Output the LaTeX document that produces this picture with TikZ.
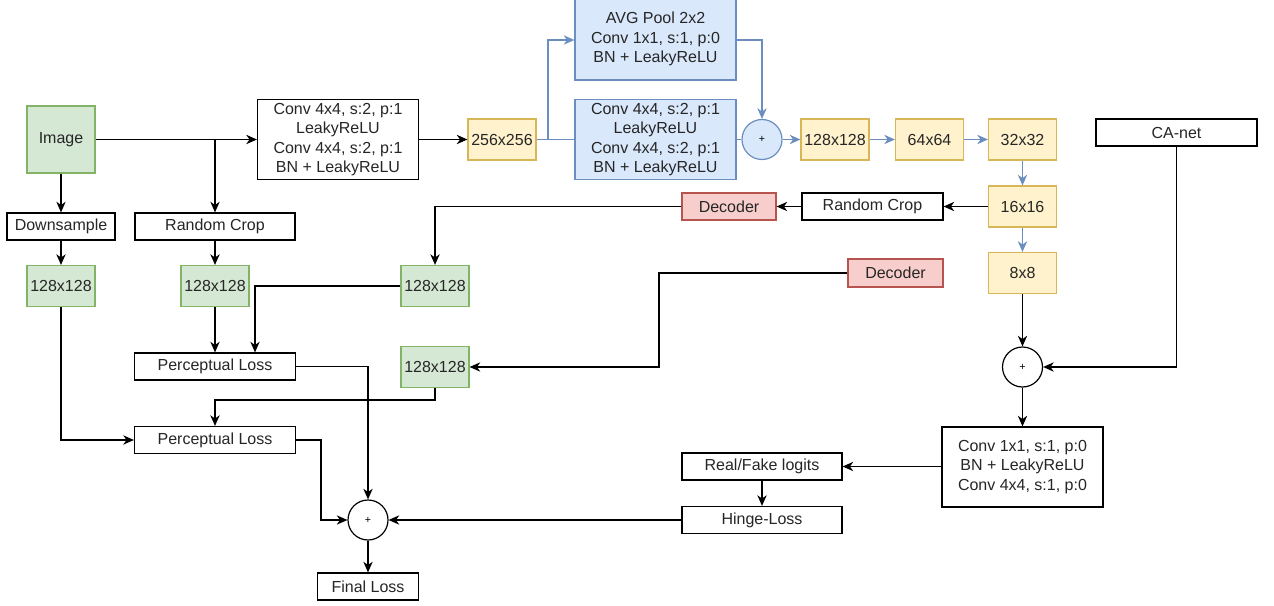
\documentclass[tikz,border=0pt]{standalone}
\usepackage{fontspec}
\setmainfont{Liberation Sans}
\usetikzlibrary{arrows.meta}
\definecolor{gfill}{HTML}{D5E8D4}
\definecolor{gdraw}{HTML}{82B366}
\definecolor{yfill}{HTML}{FFF2CC}
\definecolor{ydraw}{HTML}{D6B656}
\definecolor{bfill}{HTML}{DAE8FC}
\definecolor{bdraw}{HTML}{6C8EBF}
\definecolor{rfill}{HTML}{F8CECC}
\definecolor{rdraw}{HTML}{B85450}
\begin{document}
\begin{tikzpicture}[x=0.75pt,y=-0.75pt,
  font=\fontsize{12}{14.5}\selectfont,
  box/.style={draw=black, fill=white, line width=0.9pt, inner sep=0pt, align=center, text=black!85},
  sz/.style 2 args={minimum width=#1*0.75pt, minimum height=#2*0.75pt},
  gbox/.style={box, fill=gfill, draw=gdraw},
  ybox/.style={box, fill=yfill, draw=ydraw},
  bbox/.style={box, fill=bfill, draw=bdraw},
  rbox/.style={box, fill=rfill, draw=rdraw},
  plus/.style={circle, draw=black, fill=white, line width=0.9pt, minimum size=40*0.75pt, inner sep=0pt, font=\fontsize{8}{9}\selectfont},
  bplus/.style={plus, draw=bdraw, fill=bfill},
  arr/.style={-{Stealth[length=8pt,width=7pt,inset=2.5pt]}, line width=0.9pt},
  barr/.style={arr, draw=bdraw},
  bline/.style={line width=0.9pt, draw=bdraw},
  pline/.style={line width=0.9pt}
]
\useasboundingbox (0,0) rectangle (1274,606);

% left part
\node[gbox, sz={68}{67}] (img) at (61,139.5) {Image};
\node[box, sz={108}{27}] (ds) at (61,226.5) {Downsample};
\node[gbox, sz={68}{41}] (g1) at (61,286) {128x128};
\node[box, sz={160}{27}] (rc1) at (215,226.5) {Random Crop};
\node[gbox, sz={68}{41}] (g2) at (215,286) {128x128};
\node[box, sz={161}{80}] (conv1) at (338,139.5) {Conv 4x4, s:2, p:1\\LeakyReLU\\Conv 4x4, s:2, p:1\\BN + LeakyReLU};
\node[gbox, sz={68}{41}] (g3) at (435,286) {128x128};
\node[gbox, sz={68}{41}] (g4) at (435,367) {128x128};
\node[box, sz={161}{27}] (pl1) at (215,366.5) {Perceptual Loss};
\node[box, sz={161}{27}] (pl2) at (215,440) {Perceptual Loss};
\node[plus] (p3) at (368,520) {+};
\node[box, sz={101}{27}] (fl) at (368,586.5) {Final Loss};

% top middle
\node[ybox, sz={68}{41}] (y256) at (502,139.5) {256x256};
\node[bbox, sz={161}{82}] (avg) at (655.5,39) {AVG Pool 2x2\\Conv 1x1, s:1, p:0\\BN + LeakyReLU};
\node[bbox, sz={161}{80}] (conv2) at (655.5,139.5) {Conv 4x4, s:2, p:1\\LeakyReLU\\Conv 4x4, s:2, p:1\\BN + LeakyReLU};
\node[bplus] (p1) at (762,139.5) {+};
\node[ybox, sz={68}{41}] (y128) at (835,139.5) {128x128};
\node[ybox, sz={68}{41}] (y64) at (929.5,139.5) {64x64};
\node[ybox, sz={68}{41}] (y32) at (1022.5,139.5) {32x32};
\node[ybox, sz={68}{41}] (y16) at (1022.5,206.5) {16x16};
\node[ybox, sz={68}{41}] (y8) at (1022.5,273) {8x8};
\node[box, sz={161}{27}] (ca) at (1176.5,132.5) {CA-net};
\node[box, sz={141}{27}] (rc2) at (872.5,206.5) {Random Crop};
\node[rbox, sz={94}{27}] (dec1) at (729,206.5) {Decoder};
\node[rbox, sz={95}{28}] (dec2) at (895.5,273) {Decoder};
\node[plus] (p2) at (1022.5,367) {+};
\node[box, sz={161}{80}] (conv3) at (1022.5,467) {Conv 1x1, s:1, p:0\\BN + LeakyReLU\\Conv 4x4, s:1, p:0};
\node[box, sz={160}{27}] (rf) at (762,466.5) {Real/Fake logits};
\node[box, sz={160}{27}] (hl) at (762,520) {Hinge-Loss};

% left edges
\draw[arr] (img) -- (conv1);
\draw[arr] (rc1.north |- img.east) -- (rc1.north);
\draw[arr] (img) -- (ds);
\draw[arr] (ds) -- (g1);
\draw[arr] (rc1) -- (g2);
\draw[arr] (g2) -- (pl1);
\coordinate (k1) at (255,286);
\draw[arr] (g3.west) -- (k1) -- (k1 |- pl1.north);
\draw[arr] (g1.south) |- (pl2.west);
\coordinate (k2) at (435,400);
\draw[arr] (g4.south) -- (k2) -| (pl2.north);
\draw[arr] (pl1.east) -| (p3.north);
\coordinate (k3) at (321,440);
\draw[arr] (pl2.east) -- (k3) |- (p3.west);
\draw[arr] (hl.west) -- (p3.east);
\draw[arr] (p3) -- (fl);

% top middle edges
\draw[arr] (conv1) -- (y256);
\coordinate (k4) at (548,139.5);
\draw[bline] (y256.east) -- (conv2.west);
\draw[barr] (k4) |- (avg.west |- 0,40);
\draw[bline] (conv2.east) -- (p1.west);
\draw[barr] (avg.east |- 0,40) -| (p1.north);
\draw[barr] (p1) -- (y128);
\draw[barr] (y128) -- (y64);
\draw[barr] (y64) -- (y32);
\draw[barr] (y32) -- (y16);
\draw[barr] (y16) -- (y8);

% right edges
\draw[arr] (y16) -- (rc2);
\draw[arr] (rc2) -- (dec1);
\draw[arr] (dec1.west) -| (g3.north);
\coordinate (k5) at (659,273);
\draw[arr] (dec2.west) -- (k5) |- (g4.east);
\draw[arr] (y8) -- (p2);
\draw[arr] (ca.south) |- (p2.east);
\draw[arr] (p2) -- (conv3);
\draw[arr] (conv3.west |- rf.east) -- (rf.east);
\draw[arr] (rf) -- (hl);
\end{tikzpicture}
\end{document}
